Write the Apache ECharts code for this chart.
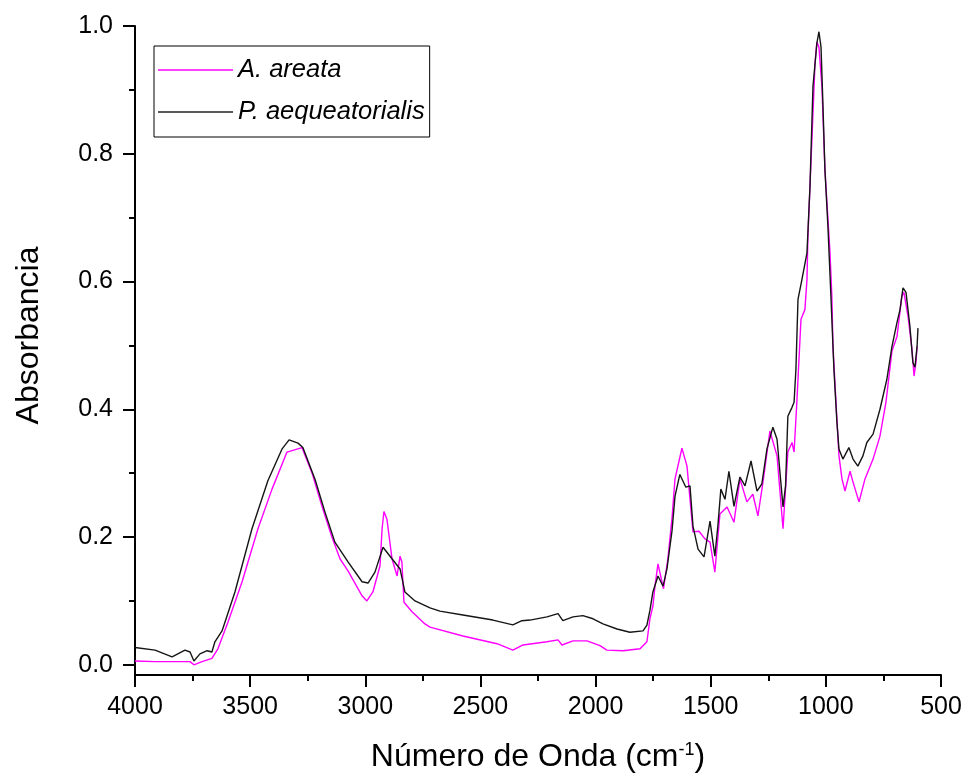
<!DOCTYPE html>
<html>
<head>
<meta charset="utf-8">
<script src="https://cdn.jsdelivr.net/npm/echarts@6/dist/echarts.min.js"></script>
<style>html,body{margin:0;padding:0;background:#fff}#c{width:968px;height:778px}</style>
</head>
<body>
<div id="c"></div>
<script>
// A. areata
const waveA = [4000,3913,3761,3744,3709,3666,3640,3596,3535,3466,3405,3340,3275,3231,3188,3145,3110,3075,3014,2993,2967,2936,2927,2919,2906,2884,2862,2849,2841,2832,2797,2741,2719,2576,2428,2359,2315,2211,2163,2146,2098,2037,1981,1951,1881,1807,1777,1764,1751,1742,1729,1705,1686,1668,1655,1625,1603,1577,1551,1525,1503,1482,1460,1429,1399,1373,1343,1317,1295,1273,1243,1212,1186,1165,1147,1138,1126,1108,1091,1082,1078,1060,1047,1039,1030,1017,1004,982,974,969,952,943,930,917,895,882,856,830,795,765,739,713,691,670,661,643,626,617,609,604];
const absA  = [0.006,0.005,0.005,0.0,0.005,0.01,0.025,0.067,0.13,0.213,0.275,0.333,0.34,0.30,0.248,0.2,0.166,0.147,0.108,0.1,0.114,0.155,0.213,0.24,0.228,0.166,0.139,0.17,0.161,0.098,0.083,0.064,0.059,0.045,0.033,0.023,0.031,0.036,0.039,0.031,0.0375,0.0375,0.030,0.023,0.022,0.025,0.036,0.072,0.092,0.123,0.158,0.119,0.166,0.23,0.291,0.339,0.311,0.208,0.209,0.197,0.192,0.145,0.236,0.247,0.223,0.291,0.255,0.267,0.233,0.286,0.366,0.327,0.213,0.333,0.348,0.333,0.411,0.541,0.556,0.603,0.67,0.827,0.942,0.975,0.967,0.905,0.775,0.645,0.577,0.498,0.384,0.327,0.291,0.272,0.303,0.286,0.255,0.291,0.322,0.358,0.411,0.491,0.514,0.577,0.583,0.545,0.494,0.452,0.473,0.498];
// P. aequeatorialis
const waveP = [4000,3913,3839,3783,3761,3744,3718,3687,3666,3653,3622,3566,3492,3423,3362,3331,3292,3271,3218,3175,3132,3075,3014,2988,2958,2923,2884,2849,2828,2784,2719,2676,2576,2446,2359,2320,2285,2211,2163,2142,2098,2055,2011,1968,1907,1851,1794,1777,1764,1751,1729,1707,1690,1668,1655,1634,1608,1590,1577,1555,1529,1503,1482,1469,1456,1438,1421,1399,1373,1351,1325,1299,1278,1256,1230,1212,1186,1175,1165,1160,1147,1138,1130,1121,1104,1082,1069,1056,1039,1030,1021,1013,1004,991,978,965,952,943,926,900,882,861,839,822,795,765,735,713,691,678,665,652,635,622,613,604,600];
const absP  = [0.027,0.023,0.0125,0.023,0.02,0.006,0.017,0.022,0.02,0.036,0.053,0.114,0.213,0.288,0.3375,0.352,0.347,0.34,0.29,0.239,0.192,0.161,0.13,0.128,0.145,0.184,0.166,0.15,0.114,0.1,0.089,0.084,0.078,0.070,0.0625,0.069,0.070,0.075,0.080,0.069,0.075,0.077,0.072,0.064,0.056,0.051,0.053,0.062,0.085,0.114,0.139,0.123,0.15,0.21,0.264,0.298,0.278,0.28,0.217,0.181,0.169,0.225,0.170,0.217,0.275,0.259,0.303,0.248,0.294,0.28,0.319,0.272,0.283,0.3375,0.372,0.353,0.247,0.28,0.389,0.389,0.403,0.411,0.4625,0.572,0.603,0.645,0.748,0.905,0.973,0.991,0.967,0.88,0.775,0.686,0.577,0.4625,0.38,0.3375,0.322,0.34,0.322,0.311,0.327,0.348,0.361,0.4,0.447,0.498,0.536,0.556,0.59,0.583,0.53,0.473,0.466,0.498,0.527];

const seriesNames = ['A. areata', 'P. aequeatorialis'];
const yMajor = [0, 0.2, 0.4, 0.6, 0.8, 1.0];
const yMinor = [0.1, 0.3, 0.5, 0.7, 0.9];

const zip = (xs, ys) => xs.map((x, i) => [x, ys[i]]);
const FONT = '"Liberation Sans", Arial, sans-serif';

const chart = echarts.init(document.getElementById('c'), null, {renderer: 'canvas'});
chart.setOption({
  animation: false,
  backgroundColor: '#fff',
  grid: {left: 135, right: 27, top: 26, bottom: 102, containLabel: false},
  legend: {
    orient: 'vertical',
    left: 154, top: 46,
    data: seriesNames,
    icon: 'rect',
    itemWidth: 75, itemHeight: 1.5,
    itemGap: 16,
    padding: [11, 5, 12, 4],
    borderColor: '#000', borderWidth: 1,
    textStyle: {fontFamily: FONT, fontSize: 25.5, fontStyle: 'italic', color: '#000', lineHeight: 25}
  },
  xAxis: {
    type: 'value', inverse: true, min: 500, max: 4000, interval: 500,
    axisLine: {onZero: false, lineStyle: {color: '#000', width: 2}},
    axisTick: {length: 12, lineStyle: {color: '#000', width: 2}},
    minorTick: {show: true, splitNumber: 2, length: 6, lineStyle: {color: '#000', width: 2}},
    splitLine: {show: false},
    axisLabel: {fontFamily: FONT, fontSize: 25, color: '#000', margin: 20, formatter: v => String(v)},
    name: 'Número de Onda (cm{sup|-1})',
    nameLocation: 'middle', nameGap: 66,
    nameTextStyle: {fontFamily: FONT, fontSize: 32, color: '#000',
      rich: {sup: {fontFamily: FONT, fontSize: 18, color: '#000', verticalAlign: 'top', padding: [0, 0, 14, 0]}}}
  },
  yAxis: [{
    type: 'value', min: -0.016, max: 1.0,
    axisLine: {show: true, lineStyle: {color: '#000', width: 2}},
    axisTick: {show: true, customValues: yMajor, length: 12, lineStyle: {color: '#000', width: 2}},
    axisLabel: {customValues: yMajor, fontFamily: FONT, fontSize: 25, color: '#000', margin: 22,
      formatter: v => v.toFixed(1)},
    splitLine: {show: false},
    name: 'Absorbancia', nameLocation: 'middle', nameGap: 90,
    nameTextStyle: {fontFamily: FONT, fontSize: 32, color: '#000', padding: [0, 0, 0, 30]}
  }, {
    type: 'value', min: -0.016, max: 1.0, position: 'left',
    axisLine: {show: false},
    axisTick: {show: true, customValues: yMinor, length: 6, lineStyle: {color: '#000', width: 2}},
    axisLabel: {show: false},
    splitLine: {show: false}
  }],
  series: [{
    name: seriesNames[0], type: 'line', showSymbol: false, yAxisIndex: 0,
    data: zip(waveA, absA),
    lineStyle: {color: '#FF00FF', width: 1.4}, itemStyle: {color: '#FF00FF'}
  }, {
    name: seriesNames[1], type: 'line', showSymbol: false, yAxisIndex: 0,
    data: zip(waveP, absP),
    lineStyle: {color: '#151515', width: 1.4}, itemStyle: {color: '#222'}
  }]
});
</script>
</body>
</html>
